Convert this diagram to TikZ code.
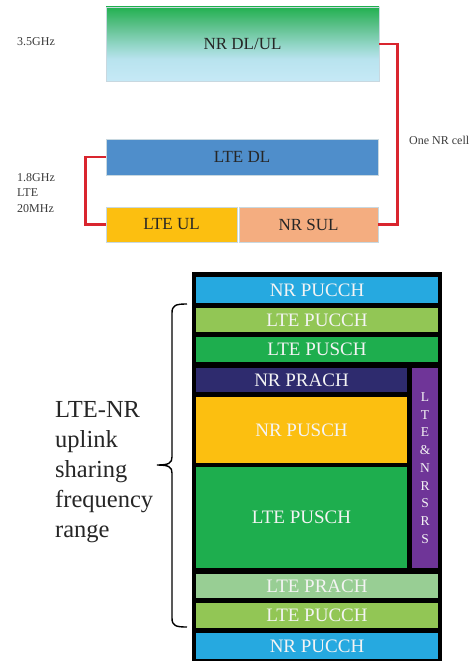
\documentclass[tikz,border=0pt]{standalone}
\usepackage{fontspec}
\setmainfont{Liberation Serif}
\definecolor{nrgreen}{HTML}{22B150}
\definecolor{nrleaf}{HTML}{5CC08A}
\definecolor{nrmid}{HTML}{90D5C4}
\definecolor{nrpale}{HTML}{B8E3EE}
\definecolor{nrsky}{HTML}{C6E9F6}
\definecolor{ltedlblue}{HTML}{4F8ECB}
\definecolor{ulyellow}{HTML}{FCBF10}
\definecolor{sulpeach}{HTML}{F4AD80}
\definecolor{linkred}{HTML}{D9252E}
\definecolor{edgegray}{HTML}{C8D8E0}
\definecolor{darktext}{HTML}{262626}
\definecolor{softtext}{HTML}{3A3A3A}
\definecolor{pucchblue}{HTML}{26A9E0}
\definecolor{pucchlime}{HTML}{92C655}
\definecolor{puschgreen}{HTML}{1EAE4E}
\definecolor{prachnavy}{HTML}{2E2B6E}
\definecolor{prachmint}{HTML}{98CE94}
\definecolor{srspurple}{HTML}{6F3598}
\definecolor{celltext}{HTML}{F4F4F4}
% green-to-sky fade for the 3.5 GHz carrier (path spans 25bp..75bp)
\pgfdeclareverticalshading{nrfade}{100bp}{color(0bp)=(nrsky); color(25bp)=(nrsky);
  color(40bp)=(nrpale); color(50bp)=(nrmid); color(62.5bp)=(nrleaf);
  color(75bp)=(nrgreen); color(100bp)=(nrgreen)}
\begin{document}
\begin{tikzpicture}[x=1pt,y=-1pt,
  topbox/.style={rectangle, draw=edgegray, line width=0.8pt, inner sep=0pt,
    text=darktext, font=\fontsize{17}{19}\selectfont},
  cell/.style={rectangle, draw=none, inner sep=0pt, text=celltext,
    font=\fontsize{19}{21}\selectfont},
  freqlabel/.style={anchor=west, inner sep=0pt, text=softtext,
    font=\fontsize{12}{15.5}\selectfont, align=left},
  redlink/.style={draw=linkred, line width=2.4pt},
  bracepath/.style={draw=black, line width=1.4pt}]
\useasboundingbox (0,0) rectangle (476,661);

% ---- upper part: carriers ----
\node[topbox, shading=nrfade,
  minimum width=273pt, minimum height=74pt] (nrdlul) at (242.5,44) {NR DL/UL};
\node[topbox, fill=ltedlblue, minimum width=272pt, minimum height=36pt]
  (ltedl) at (242,157) {LTE DL};
\node[topbox, fill=ulyellow, minimum width=131pt, minimum height=35pt]
  (lteul) at (171.5,224.5) {LTE UL};
\node[topbox, fill=sulpeach, minimum width=139pt, minimum height=35pt]
  (nrsul) at (308.5,224.5) {NR SUL};

\node[freqlabel] (f35) at (17,42) {3.5GHz};
\node[freqlabel, anchor=north west] (f18) at (17,173) {1.8GHz\\LTE\\20MHz};
\node[freqlabel] (cell) at (409,140) {One NR cell};

\draw[redlink] (nrdlul.east) -- ++(18,0) |- (nrsul.east);
\draw[redlink] (ltedl.west) -- ++(-20,0) |- (lteul.west);

% ---- lower part: uplink resource grid ----
\node[rectangle, fill=black, inner sep=0pt, minimum width=250pt,
  minimum height=396pt] (frame) at (317,470) {};

\node[cell, fill=pucchblue, minimum width=242pt, minimum height=26pt]
  (nrpucchtop) at (317,290) {NR PUCCH};
\node[cell, fill=pucchlime, minimum width=242pt, minimum height=24pt]
  (ltepucchtop) at (317,320) {LTE PUCCH};
\node[cell, fill=puschgreen, minimum width=242pt, minimum height=25pt]
  (ltepuschtop) at (317,349.5) {LTE PUSCH};
\node[cell, fill=prachnavy, minimum width=211pt, minimum height=24pt]
  (nrprach) at (301.5,380) {NR PRACH};
\node[cell, fill=ulyellow, minimum width=211pt, minimum height=66pt]
  (nrpusch) at (301.5,430) {NR PUSCH};
\node[cell, fill=puschgreen, minimum width=211pt, minimum height=101pt]
  (ltepuschmain) at (301.5,517.5) {LTE PUSCH};
\node[cell, fill=srspurple, minimum width=26pt, minimum height=200pt,
  align=center, font=\fontsize{13.5}{17.75}\selectfont]
  (srs) at (425,468) {L\\T\\E\\\&\\N\\R\\S\\R\\S};
\node[cell, fill=prachmint, minimum width=242pt, minimum height=24pt]
  (lteprach) at (317,586) {LTE PRACH};
\node[cell, fill=pucchlime, minimum width=242pt, minimum height=25pt]
  (ltepucchbot) at (317,615.5) {LTE PUCCH};
\node[cell, fill=pucchblue, minimum width=242pt, minimum height=26pt]
  (nrpucchbot) at (317,646) {NR PUCCH};

% ---- brace and its caption ----
\coordinate (bracetop) at (187,304);
\coordinate (bracetip) at (157,465);
\coordinate (bracebot) at (187,627);
\draw[bracepath] (bracetop) .. controls (176,304) and (172,305) .. (172,313)
  -- (172,457) .. controls (172,463) and (169,465) .. (bracetip)
  .. controls (169,465) and (172,467) .. (172,473)
  -- (172,618) .. controls (172,626) and (176,627) .. (bracebot);

\node[anchor=north west, inner sep=0pt, align=left, text=darktext,
  font=\fontsize{24.5}{30}\selectfont] (caption) at (55,401)
  {LTE-NR\\uplink\\sharing\\frequency\\range};
\end{tikzpicture}
\end{document}
